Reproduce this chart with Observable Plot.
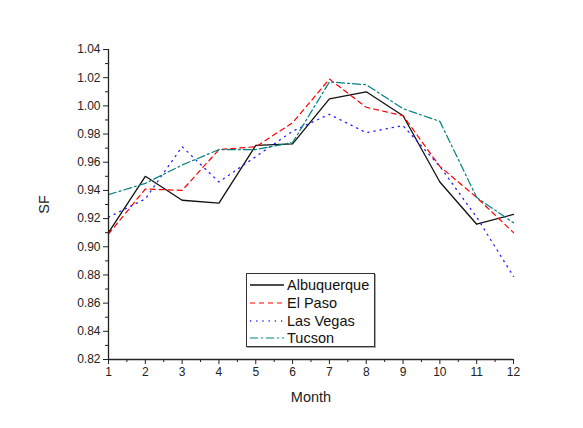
<!DOCTYPE html>
<html><head><meta charset="utf-8">
<script src="https://cdn.jsdelivr.net/npm/d3@7"></script>
<script src="https://cdn.jsdelivr.net/npm/@observablehq/plot@0.6"></script>
<style>
body{margin:0;background:#fff;font-family:"Liberation Sans",Arial,sans-serif}
#wrap{position:relative;width:583px;height:428px;background:#fff}
#legend{position:absolute;left:246px;top:273px;width:129px;height:74px;border:1px solid #333;box-shadow:1px 1px 0 #aaa;background:#fff;box-sizing:border-box}
.row{position:absolute;left:0;height:18px;width:127px}
.row svg{position:absolute;left:3px;top:0}
.row span{position:absolute;left:40px;top:0;line-height:18px;font-size:14.5px;color:#111}
g[aria-label="x-axis label"] text, g[aria-label="y-axis label"] text{font-size:14.5px}
</style>
</head><body>
<div id="wrap"><div id="legend"></div></div>
<script>
const months = [1,2,3,4,5,6,7,8,9,10,11,12];
const cities = ["Albuquerque","El Paso","Las Vegas","Tucson"];
const albuquerque = [0.910,0.950,0.933,0.931,0.972,0.973,1.005,1.010,0.993,0.946,0.916,0.923];
const elPaso      = [0.909,0.941,0.940,0.969,0.971,0.988,1.019,0.999,0.993,0.957,0.935,0.910];
const lasVegas    = [0.921,0.934,0.971,0.946,0.964,0.982,0.994,0.981,0.986,0.957,0.921,0.879];
const tucson      = [0.937,0.945,0.958,0.969,0.969,0.974,1.017,1.015,0.998,0.989,0.935,0.917];
const yTicks = [0.82,0.84,0.86,0.88,0.90,0.92,0.94,0.96,0.98,1.00,1.02,1.04];
const yMinor = [0.83,0.85,0.87,0.89,0.91,0.93,0.95,0.97,0.99,1.01,1.03];
const xMinor = [1.5,2.5,3.5,4.5,5.5,6.5,7.5,8.5,9.5,10.5,11.5];

const valuesByCity = [albuquerque, elPaso, lasVegas, tucson];
const styles = [
  {stroke:"#111", dash:null, width:1.3},
  {stroke:"#ff0000", dash:"5,4", width:1.2},
  {stroke:"#2020ff", dash:"1.2,5", width:1.3},
  {stroke:"#008080", dash:"8,3,2,3", width:1.2}
];
const data = cities.flatMap((c,ci) => valuesByCity[ci].map((v,i) => ({city:c, month:months[i], sf:v})));

const lineMarks = cities.map((c,ci) => Plot.line(data.filter(d => d.city === c), {
  x:"month", y:"sf", stroke: styles[ci].stroke, strokeWidth: styles[ci].width,
  strokeDasharray: styles[ci].dash
}));

const chart = Plot.plot({
  width:583, height:428,
  marginLeft:108, marginRight:70, marginTop:49, marginBottom:69,
  style:{fontFamily:"'Liberation Sans', Arial, sans-serif", background:"#fff", color:"#222"},
  x:{domain:[1,12]},
  y:{domain:[0.82,1.04]},
  marks:[
    ...lineMarks,
    Plot.ruleY([0.82], {stroke:"#222", strokeWidth:1.3}),
    Plot.ruleX([1], {stroke:"#222", strokeWidth:1.3}),
    Plot.axisX(months, {tickSize:5, tickPadding:3, fontSize:12, label:"Month", labelAnchor:"center", labelOffset:42, labelArrow:"none", stroke:"#222"}),
    Plot.axisX(xMinor, {tickSize:3, tickFormat:() => "", label:null, stroke:"#222"}),
    Plot.axisY(yTicks, {tickSize:5, tickPadding:3, fontSize:12, tickFormat:d3.format(".2f"), label:"SF", labelAnchor:"center", labelOffset:70, labelArrow:"none", stroke:"#222"}),
    Plot.axisY(yMinor, {tickSize:3, tickFormat:() => "", label:null, stroke:"#222"})
  ]
});
document.getElementById("wrap").prepend(chart);

const legend = document.getElementById("legend");
cities.forEach((c,ci) => {
  const row = document.createElement("div");
  row.className = "row";
  row.style.top = (2 + ci*17.8) + "px";
  const s = styles[ci];
  row.innerHTML = `<svg width="34" height="18"><line x1="0" x2="34" y1="9" y2="9" stroke="${s.stroke}" stroke-width="${s.width}" ${s.dash ? `stroke-dasharray="${s.dash}"` : ""}/></svg><span>${c}</span>`;
  legend.appendChild(row);
});
</script>
</body></html>
